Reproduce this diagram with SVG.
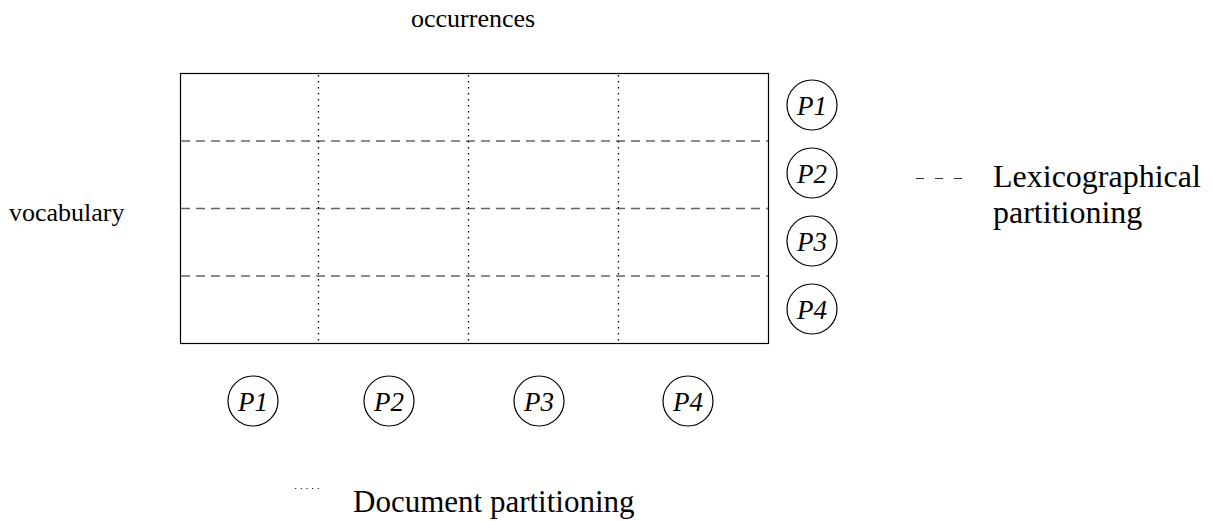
<svg xmlns="http://www.w3.org/2000/svg" width="1212" height="521" viewBox="0 0 1212 521">
<style>
.t{font-family:"Liberation Serif",serif;fill:#000}
.p{font-family:"Liberation Serif",serif;font-style:italic;font-size:27px;text-anchor:middle;fill:#000}
.c{fill:none;stroke:#000;stroke-width:1.2}
.dash{stroke:#666;stroke-width:1.3;stroke-dasharray:9,6}
.dot{stroke:#000;stroke-width:1.3;stroke-dasharray:1.5,4.5}
</style>
<rect width="1212" height="521" fill="#fff"/>
<g id="grid">
<rect x="180.5" y="73.5" width="588" height="270" fill="none" stroke="#000" stroke-width="1.2"/>
</g>
<g id="connectors">
<line class="dash" x1="181" y1="141" x2="768" y2="141"/>
<line class="dash" x1="181" y1="208.5" x2="768" y2="208.5"/>
<line class="dash" x1="181" y1="276" x2="768" y2="276"/>
<line class="dot" x1="318.5" y1="75" x2="318.5" y2="343"/>
<line class="dot" x1="468.5" y1="75" x2="468.5" y2="343"/>
<line class="dot" x1="618.5" y1="75" x2="618.5" y2="343"/>
</g>
<g id="r1"><circle class="c" cx="812" cy="105" r="25"/><text class="p" x="812" y="115">P1</text></g>
<g id="r2"><circle class="c" cx="812" cy="173" r="25"/><text class="p" x="812" y="183">P2</text></g>
<g id="r3"><circle class="c" cx="812" cy="241" r="25"/><text class="p" x="812" y="251">P3</text></g>
<g id="r4"><circle class="c" cx="812" cy="309" r="25"/><text class="p" x="812" y="319">P4</text></g>
<g id="b1"><circle class="c" cx="253" cy="401" r="25"/><text class="p" x="253" y="411">P1</text></g>
<g id="b2"><circle class="c" cx="389" cy="401" r="25"/><text class="p" x="389" y="411">P2</text></g>
<g id="b3"><circle class="c" cx="539" cy="401" r="25"/><text class="p" x="539" y="411">P3</text></g>
<g id="b4"><circle class="c" cx="688" cy="401" r="25"/><text class="p" x="688" y="411">P4</text></g>
<g id="labels">
<text class="t" x="411" y="27" font-size="26">occurrences</text>
<text class="t" x="9" y="221" font-size="26">vocabulary</text>
</g>
<g id="legend">
<line x1="916" y1="178.5" x2="962" y2="178.5" stroke="#333" stroke-width="1" stroke-dasharray="8,11"/>
<text class="t" x="993" y="187" font-size="32">Lexicographical</text>
<text class="t" x="993" y="223" font-size="32">partitioning</text>
<line x1="295" y1="488.5" x2="320" y2="488.5" stroke="#222" stroke-width="1.2" stroke-dasharray="1.2,4.5"/>
<text class="t" x="353" y="512" font-size="31">Document partitioning</text>
</g>
</svg>
